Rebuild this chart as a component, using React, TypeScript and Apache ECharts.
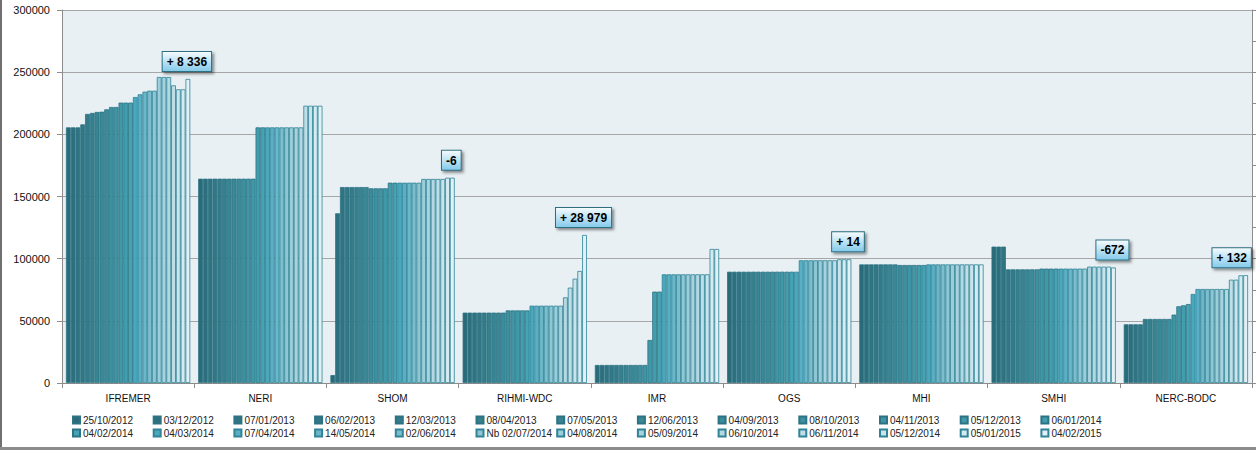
import React, { useEffect, useRef } from "react";
import * as echarts from "echarts";

const categories = ["IFREMER", "NERI", "SHOM", "RIHMI-WDC", "IMR", "OGS", "MHI", "SMHI", "NERC-BODC"];

const dates = [
  "25/10/2012", "03/12/2012", "07/01/2013", "06/02/2013", "12/03/2013", "08/04/2013", "07/05/2013",
  "12/06/2013", "04/09/2013", "08/10/2013", "04/11/2013", "05/12/2013", "06/01/2014",
  "04/02/2014", "04/03/2014", "07/04/2014", "14/05/2014", "02/06/2014", "Nb 02/07/2014",
  "04/08/2014", "05/09/2014", "06/10/2014", "06/11/2014", "05/12/2014", "05/01/2015", "04/02/2015",
];

const ifremer = [205600, 205600, 205600, 208000, 216400, 217200, 218000, 218200, 220100, 222000, 222000, 225500, 225500, 225500, 230000, 232200, 234300, 235100, 235100, 246100, 246100, 246100, 239400, 236200, 236200, 244536];
const neri = [164300, 164300, 164300, 164300, 164300, 164300, 164300, 164300, 164300, 164300, 164300, 164300, 205600, 205600, 205600, 205600, 205600, 205600, 205600, 205600, 205600, 205600, 223000, 223000, 223000, 223000];
const shom = [6400, 136500, 157600, 157600, 157600, 157600, 157600, 157600, 156600, 156600, 156600, 156600, 161100, 161100, 161100, 161100, 161100, 161100, 161100, 164100, 164100, 164100, 164100, 164100, 165100, 165094];
const rihmi = [56600, 56600, 56600, 56600, 56600, 56600, 56600, 56600, 56600, 58400, 58400, 58400, 58400, 58400, 62200, 62200, 62200, 62200, 62200, 62200, 62200, 68900, 76700, 83900, 90100, 119079];
const imr = [14500, 14500, 14500, 14500, 14500, 14500, 14500, 14500, 14500, 14500, 14500, 34600, 73500, 73500, 87400, 87400, 87400, 87400, 87400, 87400, 87400, 87400, 87400, 87400, 107800, 107800];
const ogs = [89500, 89500, 89500, 89500, 89500, 89500, 89500, 89500, 89500, 89500, 89500, 89500, 89500, 89500, 89500, 98700, 98700, 98700, 98700, 98700, 98700, 98700, 98700, 99500, 99500, 99514];
const mhi = [95400, 95400, 95400, 95400, 95400, 95400, 95400, 95400, 94900, 94900, 94900, 94900, 94900, 94900, 95400, 95400, 95400, 95400, 95400, 95400, 95400, 95400, 95400, 95400, 95400, 95400];
const smhi = [109700, 109700, 109700, 91400, 91400, 91400, 91400, 91400, 91400, 91400, 92000, 92000, 92000, 92000, 92000, 92000, 92000, 92000, 92000, 92000, 93600, 93600, 93600, 93600, 93600, 92928];
const nerc = [47200, 47200, 47200, 47200, 51500, 51500, 51500, 51500, 51500, 51500, 55000, 61700, 62500, 63500, 71600, 75600, 75600, 75600, 75600, 75600, 75600, 75600, 83100, 83100, 86600, 86732];

const groups = [ifremer, neri, shom, rihmi, imr, ogs, mhi, smhi, nerc];

const changeLabels = ["+ 8 336", "", "-6", "+ 28 979", "", "+ 14", "", "-672", "+ 132"];

const yTicks = [0, 50000, 100000, 150000, 200000, 250000, 300000];

const colors = [
  "#2B6A78", "#2E6F7E", "#307381", "#327785", "#347B89", "#36808E", "#388492",
  "#3A8896", "#3B8C9B", "#3D909F", "#3E95A4", "#4099A9", "#429EAE",
  "#44A3B4", "#4AA8BE", "#5AAFC4", "#6BB6C8", "#7DBECE", "#8EC6D3",
  "#9DCDD9", "#A8D2DD", "#B3D8E2", "#BFDEE7", "#CAE4EC", "#D6EBF1", "#E2F1F5",
];

export default function App() {
  const ref = useRef<HTMLDivElement>(null);
  useEffect(() => {
    document.body.style.margin = "0";
    const chart = echarts.init(ref.current!, null, { renderer: "svg" });
    const font = "Liberation Sans";
    const labelBg = new echarts.graphic.LinearGradient(0, 0, 0, 1, [
      { offset: 0, color: "#F4FBFE" },
      { offset: 1, color: "#86CBEB" },
    ]);
    const series = dates.map((d, i) => ({
      name: d,
      type: "bar",
      barGap: "0%",
      barCategoryGap: "6%",
      itemStyle: { color: colors[i], borderColor: i < 14 ? "#2C7384" : "#2F8497", borderWidth: 0.8 },
      data: groups.map((g, gi) => {
        const v = g[i];
        if (i === dates.length - 1 && changeLabels[gi]) {
          return {
            value: v,
            label: {
              show: true,
              position: "top",
              distance: 8,
              offset: gi === 8 ? [-14, 0] : [-1, 0],
              formatter: changeLabels[gi],
              fontFamily: font,
              fontWeight: "bold",
              fontSize: 12,
              color: "#000",
              backgroundColor: labelBg,
              borderColor: "#2D6F80",
              borderWidth: 1,
              padding: [4, 4, 3, 4],
              shadowColor: "rgba(0,0,0,0.45)",
              shadowBlur: 3,
              shadowOffsetX: 2,
              shadowOffsetY: 2,
            },
          };
        }
        return v;
      }),
    }));
    const legends = dates.map((d, i) => ({
      left: 72 + (i % 13) * 80.7,
      top: 415 + Math.floor(i / 13) * 13,
      itemWidth: 7,
      itemHeight: 7,
      itemGap: 0,
      padding: 0,
      icon: "rect",
      selectedMode: false,
      textStyle: { fontFamily: font, fontSize: 10, color: "#222", padding: [0, 0, 0, -2] },
      data: [d],
    }));
    chart.setOption({
      animation: false,
      backgroundColor: "#FFFFFF",
      textStyle: { fontFamily: font },
      grid: {
        left: 62,
        right: 4,
        top: 10,
        bottom: 67,
        show: true,
        backgroundColor: "#E9F0F4",
        borderWidth: 0,
      },
      legend: legends,
      xAxis: {
        type: "category",
        data: categories,
        axisLine: { lineStyle: { color: "#8C8C8C" } },
        axisTick: { show: true, length: 5, lineStyle: { color: "#8C8C8C" } },
        axisLabel: { fontFamily: font, fontSize: 10, color: "#111", margin: 10 },
      },
      yAxis: [
        {
          type: "value",
          min: yTicks[0],
          max: yTicks[yTicks.length - 1],
          interval: 50000,
          axisLine: { show: true, lineStyle: { color: "#8C8C8C" } },
          axisTick: { show: true, length: 5, lineStyle: { color: "#8C8C8C" } },
          axisLabel: { fontFamily: font, fontSize: 11, color: "#111", margin: 12, formatter: (v: number) => String(v) },
          splitLine: { lineStyle: { color: "#A6A6A6", width: 1 } },
        },
        {
          type: "value",
          position: "right",
          min: yTicks[0],
          max: yTicks[yTicks.length - 1],
          interval: 25000,
          axisLine: { show: true, lineStyle: { color: "#8C8C8C" } },
          axisTick: { show: true, length: 5, lineStyle: { color: "#8C8C8C" } },
          axisLabel: { show: false },
          splitLine: { show: false },
        },
      ],
      graphic: [
        { type: "line", shape: { x1: 1, y1: 0, x2: 1, y2: 450 }, style: { stroke: "#404040", lineWidth: 1.5 } },
        { type: "line", shape: { x1: 0, y1: 448.5, x2: 1256, y2: 448.5 }, style: { stroke: "#8C8C8C", lineWidth: 3 } },
      ],
      series,
    });
    return () => chart.dispose();
  }, []);
  return <div ref={ref} style={{ width: 1256, height: 450 }} />;
}
